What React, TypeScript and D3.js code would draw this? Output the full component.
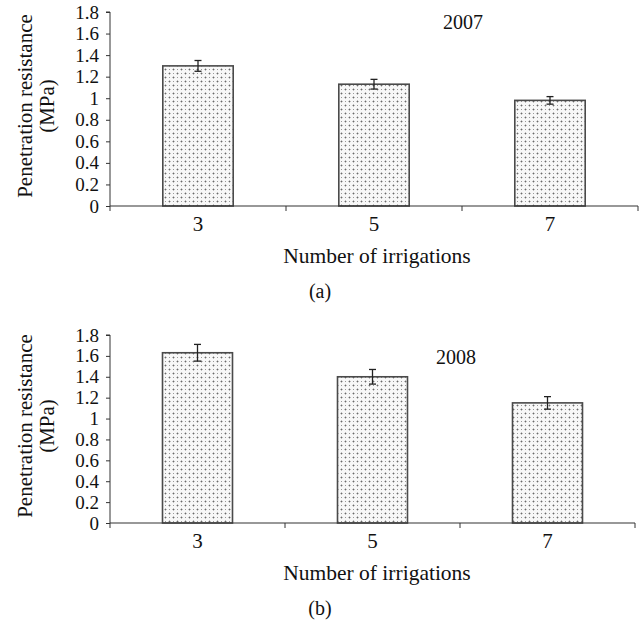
import React, { useEffect, useRef } from 'react';
import * as d3 from 'd3';

// values
const irrigations = ['3', '5', '7'];
const resistance2007 = [1.3, 1.13, 0.98];
const error2007 = [0.05, 0.045, 0.035];
const resistance2008 = [1.63, 1.4, 1.15];
const error2008 = [0.08, 0.07, 0.06];
const yTicks = [0, 0.2, 0.4, 0.6, 0.8, 1, 1.2, 1.4, 1.6, 1.8];

const font = 'Liberation Serif, Times New Roman, Times, serif';

type PanelProps = {
    values: number[];
    errors: number[];
    year: string;
    letter: string;
    top: number;
    bottom: number;
    right: number;
    yearX: number;
    yearY: number;
};

function drawPanel(g: d3.Selection<SVGGElement, unknown, null, undefined>, p: PanelProps) {
    const left = 110;
    const x = d3.scaleBand<string>()
        .domain(irrigations)
        .range([left, p.right])
        .paddingInner(0.6)
        .paddingOuter(0.3);
    const y = d3.scaleLinear().domain([0, 1.8]).range([p.bottom, p.top]);

    const step = x.step();

    // bars
    g.selectAll('.bar')
        .data(p.values)
        .enter()
        .append('rect')
        .attr('class', 'bar')
        .attr('x', (d, i) => x(irrigations[i])!)
        .attr('y', d => y(d))
        .attr('width', x.bandwidth())
        .attr('height', d => p.bottom - y(d))
        .attr('fill', 'url(#dots)')
        .attr('stroke', '#4a4a4a')
        .attr('stroke-width', 1.6);

    // error bars
    const eb = g.selectAll('.err')
        .data(p.values)
        .enter()
        .append('g')
        .attr('class', 'err')
        .attr('stroke', '#222')
        .attr('stroke-width', 1.3);
    const cx = (i: number) => x(irrigations[i])! + x.bandwidth() / 2;
    eb.append('line')
        .attr('x1', (d, i) => cx(i)).attr('x2', (d, i) => cx(i))
        .attr('y1', (d, i) => y(d + p.errors[i])).attr('y2', (d, i) => y(d - p.errors[i]));
    eb.append('line')
        .attr('x1', (d, i) => cx(i) - 3.5).attr('x2', (d, i) => cx(i) + 3.5)
        .attr('y1', (d, i) => y(d + p.errors[i])).attr('y2', (d, i) => y(d + p.errors[i]));
    eb.append('line')
        .attr('x1', (d, i) => cx(i) - 3.5).attr('x2', (d, i) => cx(i) + 3.5)
        .attr('y1', (d, i) => y(d - p.errors[i])).attr('y2', (d, i) => y(d - p.errors[i]));

    // y axis
    const yAxis = d3.axisLeft(y).tickValues(yTicks).tickSize(4).tickPadding(7).tickFormat(d => String(d));
    const ya = g.append('g').attr('transform', `translate(${left},0)`).call(yAxis);
    ya.attr('font-family', null).attr('font-size', null);
    ya.select('.domain').attr('stroke', '#333').attr('d', `M-4,${y(1.8)}H0V${p.bottom}`);
    ya.selectAll('line').attr('stroke', '#333');
    ya.selectAll('text')
        .style('font-family', font)
        .style('font-size', '19px')
        .attr('fill', '#111');

    // x axis: line with ticks at category boundaries
    g.append('line')
        .attr('x1', left).attr('x2', p.right)
        .attr('y1', p.bottom).attr('y2', p.bottom)
        .attr('stroke', '#333').attr('stroke-width', 1.2);
    const bounds = d3.range(irrigations.length + 1).map(i => left + i * step);
    g.selectAll('.xtick')
        .data(bounds)
        .enter()
        .append('line')
        .attr('x1', d => d).attr('x2', d => d)
        .attr('y1', p.bottom).attr('y2', p.bottom + 5)
        .attr('stroke', '#333');

    const label = (sel: d3.Selection<SVGTextElement, any, any, any>, size: number) =>
        sel.style('font-family', font).style('font-size', `${size}px`).attr('fill', '#111');

    label(g.selectAll('.xlab')
        .data(irrigations)
        .enter()
        .append('text')
        .attr('x', d => x(d)! + x.bandwidth() / 2)
        .attr('y', p.bottom + 25)
        .attr('text-anchor', 'middle')
        .text(d => d), 21);

    // axis titles
    label(g.append('text')
        .attr('x', 377).attr('y', p.bottom + 57)
        .attr('text-anchor', 'middle')
        .text('Number of irrigations'), 21.5);
    const mid = (p.top + p.bottom) / 2;
    label(g.append('text')
        .attr('transform', `translate(32,${mid - 3}) rotate(-90)`)
        .attr('text-anchor', 'middle')
        .text('Penetration resistance'), 21);
    label(g.append('text')
        .attr('transform', `translate(54,${mid - 3}) rotate(-90)`)
        .attr('text-anchor', 'middle')
        .text('(MPa)'), 21);

    // year label
    label(g.append('text')
        .attr('x', p.yearX).attr('y', p.yearY)
        .attr('text-anchor', 'middle')
        .text(p.year), 20);

    // panel letter
    label(g.append('text')
        .attr('x', 320).attr('y', p.bottom + 92)
        .attr('text-anchor', 'middle')
        .text(p.letter), 20);
}

export default function App() {
    const ref = useRef<SVGSVGElement>(null);

    useEffect(() => {
        const svg = d3.select(ref.current!);
        svg.selectAll('*').remove();

        // dotted fill like the original bars
        const pat = svg.append('defs').append('pattern')
            .attr('id', 'dots')
            .attr('patternUnits', 'userSpaceOnUse')
            .attr('width', 8).attr('height', 8);
        pat.append('rect').attr('width', 8).attr('height', 8).attr('fill', '#f8f8f8');
        [[0, 0], [4, 4]].forEach(([dx, dy]) => {
            pat.append('rect').attr('x', dx).attr('y', dy + 1).attr('width', 3).attr('height', 1).attr('fill', '#c0c0c0');
            pat.append('rect').attr('x', dx + 1).attr('y', dy).attr('width', 1).attr('height', 3).attr('fill', '#c0c0c0');
            pat.append('rect').attr('x', dx + 1).attr('y', dy + 1).attr('width', 1).attr('height', 1).attr('fill', '#6a6a6a');
        });
        [[4, 0], [0, 4]].forEach(([dx, dy]) => {
            pat.append('rect').attr('x', dx + 1).attr('y', dy + 1).attr('width', 1).attr('height', 1).attr('fill', '#999');
        });

        drawPanel(svg.append('g'), {
            values: resistance2007, errors: error2007, year: '2007', letter: '(a)',
            top: 12, bottom: 206, right: 638, yearX: 463, yearY: 29
        });
        drawPanel(svg.append('g'), {
            values: resistance2008, errors: error2008, year: '2008', letter: '(b)',
            top: 335, bottom: 523, right: 635, yearX: 456, yearY: 364
        });
    }, []);

    return (
        <svg ref={ref} width={643} height={625}
            style={{ position: 'absolute', left: 0, top: 0, background: '#fff' }} />
    );
}
